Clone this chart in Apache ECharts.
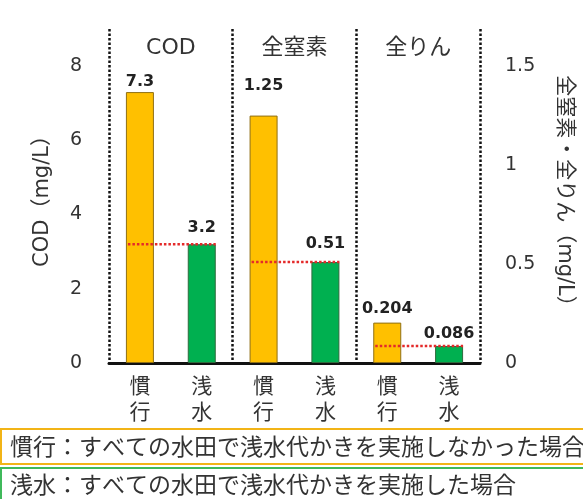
<!DOCTYPE html>
<html>
<head>
<meta charset="utf-8">
<script src="https://cdn.jsdelivr.net/npm/echarts@6/dist/echarts.min.js"></script>
<style>
  html, body { margin: 0; padding: 0; background: #fff; }
  #chart { width: 583px; height: 499px; }
</style>
</head>
<body>
<div id="chart"></div>
<script>
// Bars: conventional (慣行) vs shallow-water puddling (浅水) for each water-quality item
const categories = ['慣行', '浅水', '慣行', '浅水', '慣行', '浅水'];
const groupNames = ['COD', '全窒素', '全りん'];
const codValues = [7.3, 3.2];            // mg/L, left axis
const nitrogenValues = [1.25, 0.51];     // mg/L, right axis
const phosphorusValues = [0.204, 0.086]; // mg/L, right axis
const leftTicks = [0, 2, 4, 6, 8];
const rightTicks = [0, 0.5, 1, 1.5];
const legendTexts = [
  '慣行：すべての水田で浅水代かきを実施しなかった場合',
  '浅水：すべての水田で浅水代かきを実施した場合'
];

const YELLOW = '#FFC000';
const GREEN = '#00B050';
const BAR_WIDTH = 28;
const LATIN = "'DejaVu Sans', 'Noto Sans CJK JP', sans-serif";
const CJK = "'Noto Sans CJK JP', sans-serif";

// left axis range slightly above the last tick; right axis scaled so ticks line up
const leftMax = 9;
const rightMax = leftMax * rightTicks[rightTicks.length - 1] / leftTicks[leftTicks.length - 1];

// gap between each bar top and its value label
const labelLift = [2, 8, 22, 10, 6, 4];

function barItem(value, index) {
  const conventional = index % 2 === 0;
  return {
    value: value,
    itemStyle: {
      color: conventional ? YELLOW : GREEN,
      borderColor: conventional ? '#8f6f14' : '#2f6b3d',
      borderWidth: 1
    },
    label: { distance: labelLift[index] }
  };
}

const codData = categories.map((c, i) => i < 2 ? barItem(codValues[i], i) : '-');
const nutrientValues = nitrogenValues.concat(phosphorusValues);
const nutrientData = categories.map((c, i) => i >= 2 ? barItem(nutrientValues[i - 2], i) : '-');

const valueLabel = {
  show: true,
  position: 'top',
  formatter: p => String(p.value),
  fontFamily: LATIN,
  fontWeight: 'bold',
  fontSize: 16,
  color: '#222'
};

// red dotted line at the shallow-water level, spanning both bars of a group
function refLine(params, api) {
  const v = api.value(2);
  const a = api.coord([api.value(0), v]);
  const b = api.coord([api.value(1), v]);
  const half = BAR_WIDTH / 2;
  return {
    type: 'line',
    shape: { x1: a[0] - half + 2, y1: a[1], x2: b[0] + half, y2: b[1] },
    style: { stroke: '#e42a2a', lineWidth: 2.5, lineDash: [2.5, 2] }
  };
}

const chart = echarts.init(document.getElementById('chart'));
chart.setOption({
  animation: false,
  backgroundColor: '#fff',
  grid: { left: 109, right: 93, top: 29, bottom: 136 },
  xAxis: [
    {
      type: 'category',
      position: 'bottom',
      data: categories,
      axisLine: { show: true, lineStyle: { color: '#111', width: 3 } },
      axisTick: { show: false },
      axisLabel: {
        formatter: v => v.split('').join('\n'),
        fontFamily: CJK,
        fontSize: 21,
        lineHeight: 26,
        color: '#333',
        margin: 9
      },
      splitLine: { show: false }
    },
    {
      type: 'category',
      position: 'top',
      data: groupNames,
      axisLine: { show: false },
      axisTick: { show: false },
      axisLabel: {
        inside: true,
        margin: 8,
        fontFamily: LATIN,
        fontSize: 22,
        color: '#333'
      },
      splitLine: { show: true, lineStyle: { color: '#111', width: 2.5, type: [2.5, 2] } }
    }
  ],
  yAxis: [
    {
      type: 'value',
      min: 0,
      max: leftMax,
      interval: leftTicks[1] - leftTicks[0],
      name: 'COD（mg/L）',
      nameLocation: 'middle',
      nameRotate: 90,
      nameGap: 56,
      nameTextStyle: { fontFamily: LATIN, fontSize: 21, color: '#333' },
      axisLine: { show: false },
      axisTick: { show: false },
      splitLine: { show: false },
      axisLabel: {
        showMaxLabel: false,
        fontFamily: LATIN,
        fontSize: 19,
        color: '#333',
        margin: 27
      }
    },
    {
      type: 'value',
      min: 0,
      max: rightMax,
      interval: rightTicks[1] - rightTicks[0],
      name: '全窒素・全りん（mg/L）',
      nameLocation: 'middle',
      nameRotate: -90,
      nameGap: 74,
      nameTextStyle: { fontFamily: LATIN, fontSize: 21, color: '#333' },
      axisLine: { show: false },
      axisTick: { show: false },
      splitLine: { show: false },
      axisLabel: {
        showMaxLabel: false,
        fontFamily: LATIN,
        fontSize: 19,
        color: '#333',
        margin: 25
      }
    }
  ],
  series: [
    {
      name: 'COD',
      type: 'bar',
      xAxisIndex: 0,
      yAxisIndex: 0,
      barWidth: BAR_WIDTH,
      barGap: '-100%',
      data: codData,
      label: valueLabel
    },
    {
      name: '全窒素・全りん',
      type: 'bar',
      xAxisIndex: 0,
      yAxisIndex: 1,
      barWidth: BAR_WIDTH,
      barGap: '-100%',
      data: nutrientData,
      label: valueLabel
    },
    {
      type: 'custom',
      xAxisIndex: 0,
      yAxisIndex: 0,
      z: 5,
      renderItem: refLine,
      encode: { x: [0, 1], y: 2 },
      data: [[0, 1, codValues[1]]]
    },
    {
      type: 'custom',
      xAxisIndex: 0,
      yAxisIndex: 1,
      z: 5,
      renderItem: refLine,
      encode: { x: [0, 1], y: 2 },
      data: [[2, 3, nitrogenValues[1]], [4, 5, phosphorusValues[1]]]
    }
  ],
  graphic: [
    {
      type: 'group',
      left: 0,
      top: 428,
      children: [
        {
          type: 'rect',
          shape: { x: 2, y: 0, width: 620, height: 35 },
          style: { fill: '#fff', stroke: '#f2b417', lineWidth: 2 }
        },
        {
          type: 'text',
          x: 11,
          y: 17.5,
          style: { text: legendTexts[0], font: '23px ' + CJK, fill: '#333', textVerticalAlign: 'middle' }
        },
        {
          type: 'rect',
          shape: { x: 2, y: 39, width: 620, height: 40 },
          style: { fill: '#fff', stroke: '#3fb95b', lineWidth: 2 }
        },
        {
          type: 'text',
          x: 11,
          y: 55,
          style: { text: legendTexts[1], font: '23px ' + CJK, fill: '#333', textVerticalAlign: 'middle' }
        }
      ]
    }
  ]
});
</script>
</body>
</html>
